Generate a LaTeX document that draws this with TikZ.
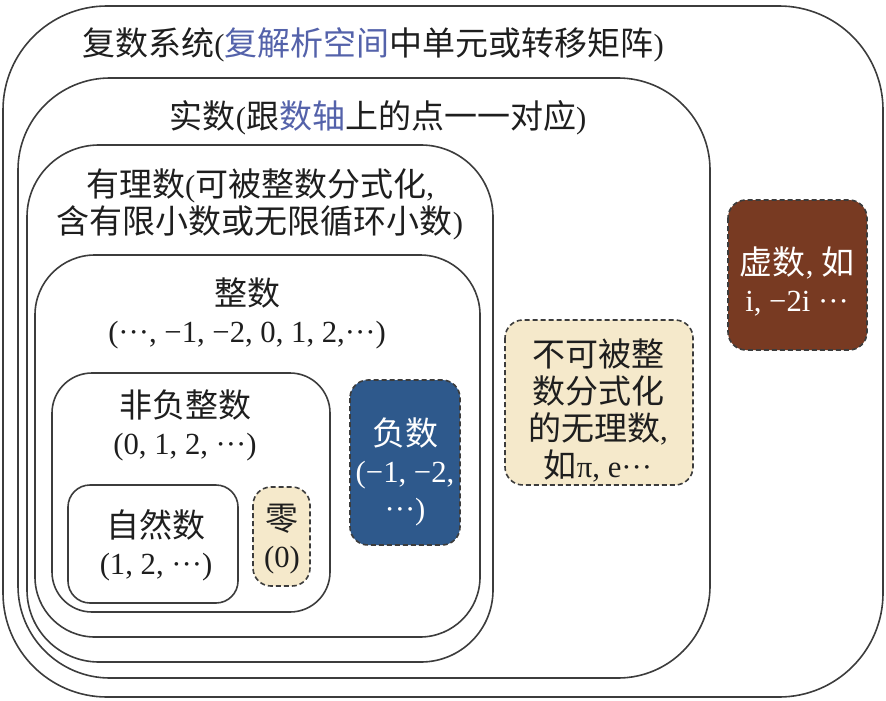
\documentclass[tikz,border=0pt]{standalone}
\usepackage{fontspec}
\setmainfont{Liberation Serif}[Scale=0.93]
\newfontfamily\cjk{Noto Sans CJK SC}
\newcommand{\zh}[1]{{\cjk #1}}
\usepackage{xcolor}
\definecolor{hlblue}{RGB}{84,98,170}
\definecolor{linegray}{RGB}{60,60,60}
\definecolor{txtgray}{RGB}{30,30,30}
\definecolor{beige}{RGB}{245,233,203}
\definecolor{negblue}{RGB}{46,89,140}
\definecolor{imagbrown}{RGB}{120,58,34}

\begin{document}
\begin{tikzpicture}[x=0.5pt,y=-0.5pt,
    setbox/.style={draw=linegray,line width=0.8pt},
    dashbox/.style={draw=linegray,line width=0.8pt,dash pattern=on 2.5pt off 1.5pt,rounded corners=9pt},
    lbl/.style={inner sep=0pt,align=center,text=txtgray,font=\fontsize{16.5}{18.5}\selectfont}]
  \useasboundingbox (0,0) rectangle (886,700);
  % nested sets
  \draw[setbox,rounded corners=52pt] (3,6) rectangle (883,697);
  \draw[setbox,rounded corners=46pt] (18,78) rectangle (710,678);
  \draw[setbox,rounded corners=36pt] (27,145) rectangle (493,662);
  \draw[setbox,rounded corners=30pt] (35,255) rectangle (480,637);
  \draw[setbox,rounded corners=20pt] (52,373) rectangle (330,612);
  \draw[setbox,rounded corners=11pt] (68,485) rectangle (238,603);
  % dashed sets
  \draw[dashbox,fill=beige] (253,487) rectangle (310,586);
  \draw[dashbox,fill=negblue] (350,380) rectangle (460,545);
  \draw[dashbox,fill=beige] (505,320) rectangle (693,485);
  \draw[dashbox,fill=imagbrown] (728,200) rectangle (867,350);
  % labels
  \node[lbl] (complex) at (373,45) {\zh{复数系统}({\color{hlblue}\zh{复解析空间}}\zh{中单元或转移矩阵})};
  \node[lbl] (real) at (378,118) {\zh{实数}(\zh{跟}{\color{hlblue}\zh{数轴}}\zh{上的点一一对应})};
  \node[lbl] (rational) at (260,204) {\zh{有理数}(\zh{可被整数分式化},\\\zh{含有限小数或无限循环小数})};
  \node[lbl] (integer) at (247,313) {\zh{整数}\\(···, −1, −2, 0, 1, 2,···)};
  \node[lbl] (nonneg) at (185,425) {\zh{非负整数}\\(0, 1, 2, ···)};
  \node[lbl] (natural) at (156,545) {\zh{自然数}\\(1, 2, ···)};
  \node[lbl] (zero) at (282,539) {\zh{零}\\(0)};
  \node[lbl,text=white] (negative) at (405,472) {\zh{负数}\\(−1, −2,\\···)};
  \node[lbl] (irrational) at (598,410) {\zh{不可被整}\\\zh{数分式化}\\\zh{的无理数},\\\zh{如}π, e···};
  \node[lbl,text=white] (imaginary) at (797,281) {\zh{虚数}, \zh{如}\\i, −2i ···};
\end{tikzpicture}
\end{document}
